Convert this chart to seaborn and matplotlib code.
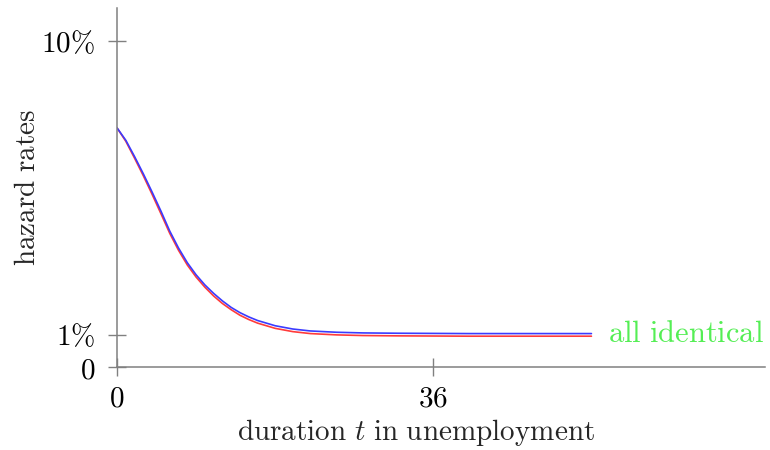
import matplotlib
matplotlib.use("Agg")
import matplotlib.pyplot as plt
import seaborn as sns
import pandas as pd

# duration in unemployment (months) and hazard rates in %
t = [0, 1, 2, 3, 4, 5, 6, 7, 8, 9, 10, 11, 12, 13, 14, 15, 16, 18, 20, 22, 25, 28, 32, 40, 54]
blue_rate = [7.33, 6.95, 6.45, 5.92, 5.36, 4.78, 4.17, 3.65, 3.20, 2.83, 2.52, 2.26, 2.03,
             1.83, 1.67, 1.54, 1.43, 1.27, 1.17, 1.11, 1.07, 1.05, 1.04, 1.03, 1.03]
red_rate = [7.33, 6.92, 6.40, 5.86, 5.29, 4.70, 4.10, 3.58, 3.13, 2.76, 2.45, 2.18, 1.95,
            1.76, 1.59, 1.46, 1.35, 1.19, 1.09, 1.03, 0.99, 0.97, 0.96, 0.95, 0.95]

x_ticks = [0, 36]
x_tick_labels = [r"$0$", r"$36$"]
y_ticks = [0, 1, 10]
y_tick_labels = [r"$0$", r"$1\%$", r"$10\%$"]

sns.set_theme(style="white")
plt.rcParams["mathtext.fontset"] = "cm"
plt.rcParams["font.family"] = ["DejaVu Serif"]

df = pd.DataFrame({"t": t, "blue": blue_rate, "red": red_rate})

fig = plt.figure(figsize=(7.7, 4.5), dpi=100)
ax = fig.add_axes([0.152, 0.184, 0.842, 0.798])

sns.lineplot(data=df, x="t", y="red", color="#ff3b3b", linewidth=1.2, ax=ax)
sns.lineplot(data=df, x="t", y="blue", color="#3b3bff", linewidth=1.2, ax=ax)

ax.annotate(r"$\mathrm{all\ identical}$", xy=(t[-1], blue_rate[-1]), xytext=(12, 0),
            textcoords="offset points", color="#55ee55", fontsize=22,
            va="center", ha="left", annotation_clip=False)

ax.set_xlim(0, 73.8)
ax.set_ylim(0, 11)
ax.set_xticks(x_ticks)
ax.set_xticklabels(x_tick_labels)
ax.set_yticks(y_ticks)
ax.set_yticklabels(y_tick_labels)

gray = "#808080"
for side in ["top", "right"]:
    ax.spines[side].set_visible(False)
for side in ["left", "bottom"]:
    ax.spines[side].set_color(gray)
    ax.spines[side].set_linewidth(1.1)
ax.tick_params(direction="inout", length=13.5, width=1.0, color=gray,
               labelsize=21, labelcolor="black", bottom=True, left=True)
ax.tick_params(axis="y", pad=9)
ax.tick_params(axis="x", pad=6)

ax.set_xlabel(r"$\mathrm{duration}\ t\ \mathrm{in\ unemployment}$", fontsize=21)
ax.set_ylabel(r"$\mathrm{hazard\ rates}$", fontsize=21)
ax.xaxis.set_label_coords(0.461, -0.14)
ax.yaxis.set_label_coords(-0.118, 0.5)
ax.grid(False)

fig.savefig("out.png", dpi=100)
